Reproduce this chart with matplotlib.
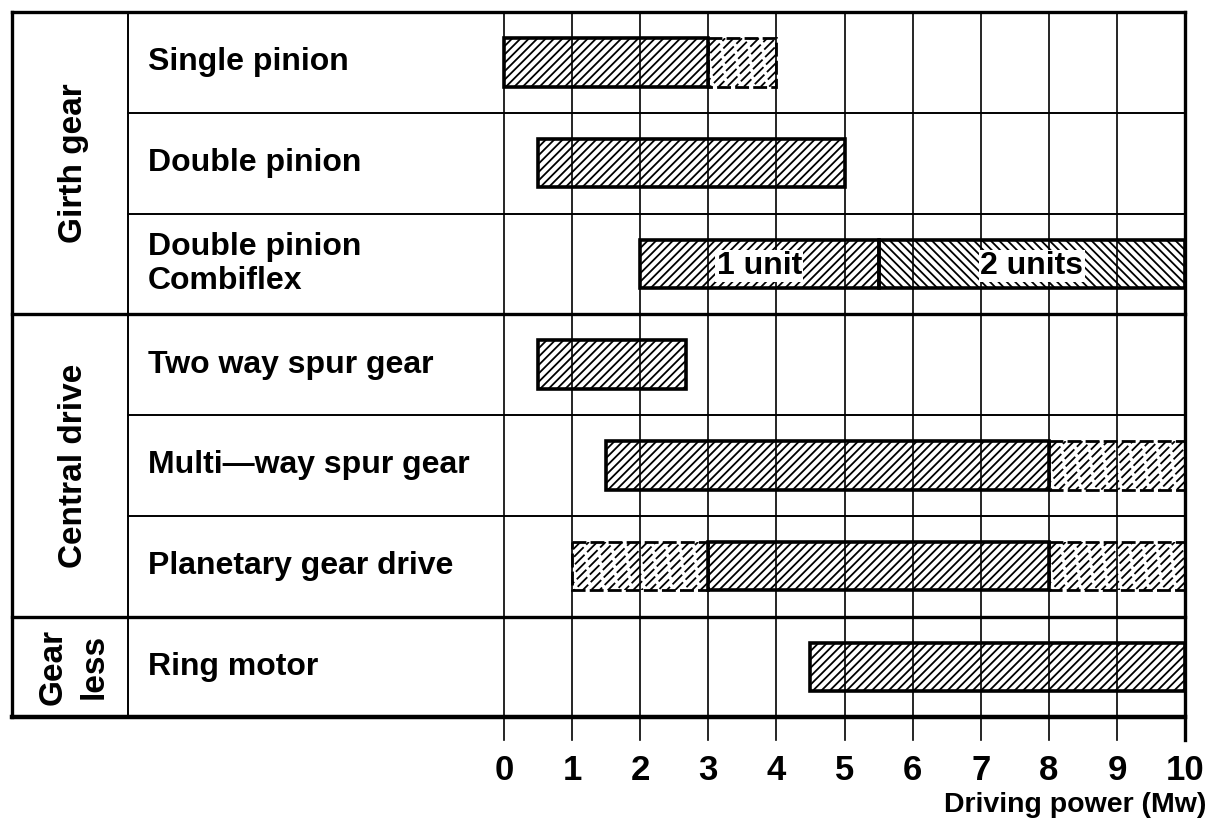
import numpy as np
import matplotlib
matplotlib.use("Agg")
import matplotlib.pyplot as plt
from matplotlib.patches import Rectangle

plt.rcParams['font.family'] = ['Liberation Sans', 'DejaVu Sans']
plt.rcParams['font.weight'] = 'bold'

# --- data -------------------------------------------------------------
categories = ["Single pinion", "Double pinion", "Double pinion\nCombiflex",
              "Two way spur gear", "Multi\u2014way spur gear",
              "Planetary gear drive", "Ring motor"]
groups = ["Girth gear", "Central drive", "Gear\nless"]
group_sizes = [3, 3, 1]

# firm ranges (solid outline)
solid_rows = [0, 1, 3, 4, 5, 6]
solid_lo = [0.0, 0.5, 0.5, 1.5, 3.0, 4.5]
solid_hi = [3.0, 5.0, 2.67, 8.0, 8.0, 10.0]

# possible extensions (dashed outline)
ext_rows = [0, 4, 5, 5]
ext_lo = [3.0, 8.0, 1.0, 8.0]
ext_hi = [4.0, 10.0, 3.0, 10.0]

# Combiflex units
unit_row = 2
unit_labels = ["1 unit", "2 units"]
unit_lo = [2.0, 5.5]
unit_hi = [5.5, 10.0]
unit_dir = ["/", "\\"]

ticks = list(range(0, 11))
xlabel = "Driving power (Mw)"

# --- layout -----------------------------------------------------------
X_LEFT = -7.22    # outer frame
X_COL = -5.52     # divider between group and category column
X_TEXT = -5.23
BAR_H = 0.48
HATCH_STEP = 8.4  # pixels between hatch lines
DASH = (7.5, 2.0)

fig = plt.figure(figsize=(12.13, 8.21), dpi=100)
ax = fig.add_axes([0, 0, 1, 1])
ax.set_xlim(-7.40, 10.41)
ax.set_ylim(7.53, -0.62)
ax.axis('off')

n = len(categories)
sx = fig.dpi * 12.13 / (10.41 + 7.40)   # px per x unit
sy = fig.dpi * 8.21 / (7.53 + 0.62)     # px per y unit


def hatch(x0, x1, yc, direction="/", dashed=False):
    y_top = yc - BAR_H / 2
    y_bot = yc + BAR_H / 2
    if dashed:
        edge = Rectangle((x0, y_top), x1 - x0, BAR_H, fill=False, lw=2.0,
                         ls=(0, (5, 1.5)), ec='black', zorder=4)
    else:
        edge = Rectangle((x0, y_top), x1 - x0, BAR_H, fill=False, lw=2.6,
                         ec='black', zorder=4)
    ax.add_patch(edge)
    clip = Rectangle((x0, y_top), x1 - x0, BAR_H, transform=ax.transData)
    h_px = BAR_H * sy
    dx = h_px / sx
    step = HATCH_STEP / sx
    period = sum(DASH)
    for k, c in enumerate(np.arange(x0 - dx, x1 + step, step)):
        if direction == "/":
            xs, ys = [c, c + dx], [y_bot, y_top]
        else:
            xs, ys = [c, c + dx], [y_top, y_bot]
        # spread the dash phase so gaps do not line up in rows
        style = ((k * 0.618 * period) % period, DASH) if dashed else '-'
        ln, = ax.plot(xs, ys, color='black', lw=1.3, ls=style,
                      solid_capstyle='butt', zorder=3)
        ln.set_clip_path(clip)


# grid lines and ticks
for t in ticks:
    ax.plot([t, t], [-0.5, n - 0.5 + 0.23], color='black',
            lw=2.4 if t == ticks[-1] else 1.2, zorder=2)
    ax.text(t, 7.03, str(t), ha='center', va='center', fontsize=25)

ax.text(10.32, 7.37, xlabel, ha='right', va='center', fontsize=20.5)

# frame
ax.plot([X_LEFT, 10], [-0.5, -0.5], color='black', lw=2.4, zorder=2)
ax.plot([X_LEFT, 10], [n - 0.5, n - 0.5], color='black', lw=3.2, zorder=2)
ax.plot([X_LEFT, X_LEFT], [-0.5, n - 0.5], color='black', lw=2.4, zorder=2)
ax.plot([X_COL, X_COL], [-0.5, n - 0.5], color='black', lw=1.4, zorder=2)

# row separators and category labels
for i, cat in enumerate(categories):
    ax.text(X_TEXT, i, cat, ha='left', va='center', fontsize=23,
            linespacing=1.2)
    if i > 0:
        ax.plot([X_COL, 10], [i - 0.5, i - 0.5], color='black', lw=1.4,
                zorder=2)

# group separators and labels
start = 0
for g, size in zip(groups, group_sizes):
    if start > 0:
        ax.plot([X_LEFT, 10], [start - 0.5, start - 0.5], color='black',
                lw=2.4, zorder=2)
    mid = start + (size - 1) / 2
    ax.text((X_LEFT + X_COL) / 2 + 0.05, mid, g, ha='center', va='center',
            rotation=90, fontsize=24, linespacing=1.45)
    start += size

# bars
for r, lo, hi in zip(solid_rows, solid_lo, solid_hi):
    hatch(lo, hi, r)
for r, lo, hi in zip(ext_rows, ext_lo, ext_hi):
    hatch(lo, hi, r, dashed=True)
for lab, lo, hi, d in zip(unit_labels, unit_lo, unit_hi, unit_dir):
    hatch(lo, hi, unit_row, direction=d)
    ax.text((lo + hi) / 2, unit_row + 0.02, lab, ha='center', va='center',
            fontsize=23, zorder=5,
            bbox=dict(facecolor='white', edgecolor='none', pad=1.0))

fig.savefig("out.png", dpi=100)
